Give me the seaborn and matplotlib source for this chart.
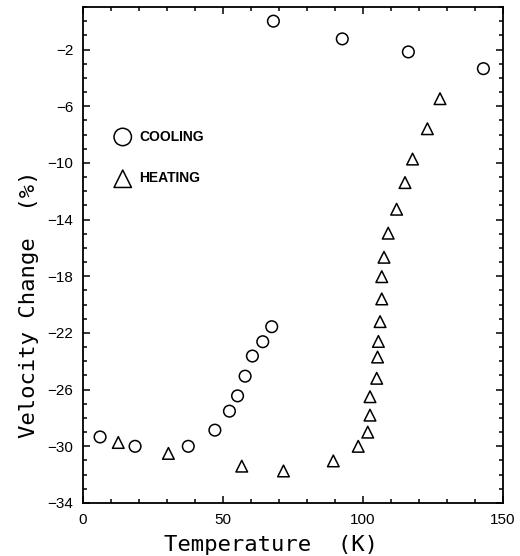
import numpy as np
import pandas as pd
import matplotlib
matplotlib.use("Agg")
import matplotlib.pyplot as plt
import seaborn as sns
from matplotlib.ticker import MultipleLocator, FixedLocator

# ---- data ----
cool_T = [6.1, 18.6, 37.6, 47.1, 52.3, 55.2, 57.9, 60.5, 64.2, 67.4,
          68.0, 92.6, 116.2, 143.0]
cool_V = [-29.34, -30.0, -30.0, -28.86, -27.52, -26.44, -25.05, -23.63, -22.62, -21.56,
          0.0, -1.25, -2.17, -3.35]

heat_T = [12.6, 30.5, 56.7, 71.6, 89.4, 98.3, 101.7, 102.5, 102.5, 104.9, 105.2,
          105.5, 106.1, 106.7, 106.7, 107.5, 109.0, 112.0, 115.0, 117.7, 123.0, 127.5]
heat_V = [-29.73, -30.5, -31.4, -31.74, -31.03, -30.0, -29.0, -27.8, -26.5, -25.2, -23.7,
          -22.6, -21.2, -19.6, -18.03, -16.66, -14.96, -13.27, -11.39, -9.73, -7.59, -5.47]

labels = ["COOLING", "HEATING"]
x_ticks = [0, 50, 100, 150]
y_ticks = [-34, -30, -26, -22, -18, -14, -10, -6, -2]

cool = pd.DataFrame({"T": cool_T, "V": cool_V})
heat = pd.DataFrame({"T": heat_T, "V": heat_V})

sns.set_style("ticks")
plt.rcParams["font.family"] = ["Liberation Sans", "DejaVu Sans"]
plt.rcParams["text.color"] = "black"
plt.rcParams["axes.labelcolor"] = "black"

fig = plt.figure(figsize=(5.2, 5.56), dpi=100)
ax = fig.add_axes([83 / 520, 1 - 503 / 556, 420 / 520, 496 / 556])

sns.scatterplot(data=cool, x="T", y="V", marker="o", s=70, facecolor="none",
                edgecolor="black", linewidth=1.1, label=labels[0], ax=ax)
sns.scatterplot(data=heat, x="T", y="V", marker="^", s=70, facecolor="none",
                edgecolor="black", linewidth=1.1, label=labels[1], ax=ax)

ax.set_xlim(0, 150)
ax.set_ylim(-34, 1)
ax.xaxis.set_major_locator(FixedLocator(x_ticks))
ax.xaxis.set_minor_locator(MultipleLocator(10))
ax.yaxis.set_major_locator(FixedLocator(y_ticks))
ax.yaxis.set_minor_locator(MultipleLocator(1))
ax.set_xticklabels([str(t) for t in x_ticks])
ax.set_yticklabels([str(t).replace("-", "\u2212") for t in y_ticks])

ax.tick_params(which="both", direction="in", top=True, right=True,
               colors="black", labelsize=11, pad=7, width=1.1)
ax.tick_params(which="major", length=5)
ax.tick_params(which="minor", length=3)
for s in ax.spines.values():
    s.set_linewidth(1.3)
    s.set_color("black")

ax.set_xlabel("Temperature  (K)", family="DejaVu Sans Mono", fontsize=16, color="black")
ax.set_ylabel("Velocity Change  (%)", family="DejaVu Sans Mono", fontsize=16, color="black")
ax.xaxis.set_label_coords(0.448, -0.065)
ax.yaxis.set_label_coords(-0.105, 0.40)

leg = ax.legend(loc="upper left", bbox_to_anchor=(0.045, 0.778), frameon=False,
                markerscale=1.5, labelspacing=2.0,
                handletextpad=0.6, handlelength=1.2, labelcolor="black",
                prop={"family": "Liberation Sans", "weight": "bold", "size": 10})

fig.savefig("out.png", dpi=100)
